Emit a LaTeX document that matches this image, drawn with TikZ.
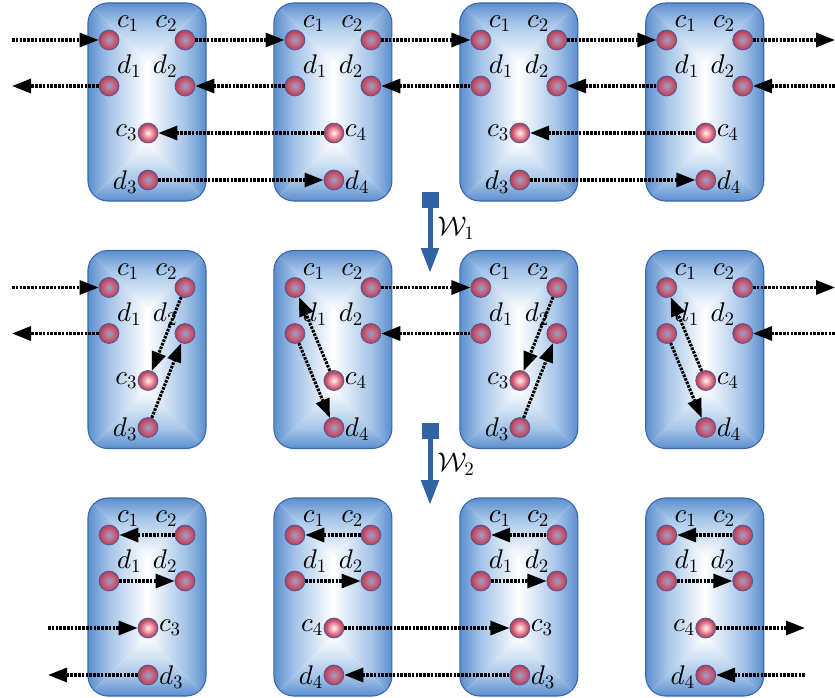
\documentclass[tikz,border=0pt]{standalone}
\DeclareFontShape{OML}{cmm}{m}{it}{<->cmmi10}{}
\DeclareFontShape{OMS}{cmsy}{m}{n}{<->cmsy10}{}
\DeclareFontShape{OT1}{cmr}{m}{n}{<->cmr10}{}
\usetikzlibrary{arrows.meta}
\definecolor{boxedge}{RGB}{92,142,206}
\definecolor{boxmid}{RGB}{165,197,232}
\definecolor{boxline}{RGB}{58,104,172}
\definecolor{ballline}{RGB}{70,90,165}
\definecolor{balledge}{RGB}{192,76,100}
\definecolor{darkmid}{RGB}{185,120,150}
\definecolor{darkcen}{RGB}{140,165,210}
\definecolor{lightmid}{RGB}{238,160,170}
\definecolor{lightcen}{RGB}{255,242,244}
\definecolor{wblue}{RGB}{50,100,165}
\pgfdeclarehorizontalshading{boxh}{100bp}{color(0bp)=(boxedge); color(25bp)=(boxedge); color(34bp)=(boxmid); color(50bp)=(white); color(66bp)=(boxmid); color(75bp)=(boxedge); color(100bp)=(boxedge)}
\pgfdeclareverticalshading{boxv}{100bp}{color(0bp)=(boxedge); color(25bp)=(boxedge); color(30bp)=(boxmid); color(40bp)=(white); color(60bp)=(white); color(70bp)=(boxmid); color(75bp)=(boxedge); color(100bp)=(boxedge)}
\pgfdeclareradialshading{balldark}{\pgfpointorigin}{color(0bp)=(darkcen); color(9bp)=(darkmid); color(20bp)=(balledge); color(25bp)=(balledge!85!black); color(50bp)=(balledge!85!black)}
\pgfdeclareradialshading{balllight}{\pgfpointorigin}{color(0bp)=(lightcen); color(10bp)=(lightmid); color(21bp)=(balledge); color(25bp)=(balledge!90!black); color(50bp)=(balledge!90!black)}
\tikzset{
  ball/.style={circle, minimum size=20pt, inner sep=0pt, draw=ballline, line width=0.7pt, shade, shading=balldark},
  lball/.style={ball, shading=balllight},
  lbl/.style={inner sep=0.5pt, font=\fontsize{27}{31}\selectfont, text opacity=1},
  arr/.style={line width=3.1pt, dash pattern=on 2.6pt off 1.2pt, -{Triangle[length=19pt,width=14pt]}},
  boxframe/.style={draw=boxline, line width=1.1pt, rounded corners=20pt, minimum width=118pt, minimum height=198pt, inner sep=0pt},
  warr/.style={wblue, line width=5pt, {Square[length=16pt,width=17pt]}-{Triangle[length=25pt,width=17pt]}},
}
\begin{document}
\begin{tikzpicture}[x=1pt,y=-1pt]
\useasboundingbox (0,0) rectangle (835,698);
% boxes
\foreach \r in {1,2,3}{
  \foreach \b in {1,2,3,4}{
    \pgfmathsetmacro\X{88+185.9*(\b-1)}
    \pgfmathsetmacro\Y{3+247.5*(\r-1)}
    \begin{scope}
      \clip[rounded corners=20pt] (\X,\Y) rectangle ++(118,198);
      \shade[shading=boxh] (\X,\Y) -- ++(59,59) -- ++(0,80) -- (\X,\Y+198) -- cycle
                           (\X+118,\Y) -- ++(-59,59) -- ++(0,80) -- (\X+118,\Y+198) -- cycle;
      \shade[shading=boxv] (\X,\Y) -- (\X+118,\Y) -- (\X+59,\Y+59) -- cycle
                           (\X,\Y+198) -- (\X+118,\Y+198) -- (\X+59,\Y+139) -- cycle;
    \end{scope}
    \node[boxframe] (box\r\b) at (\X+59,\Y+99) {};
  }
}
% balls
\foreach \r/\b/\k/\p in {1/1/3/left,1/2/4/right,1/3/3/left,1/4/4/right,
                         2/1/3/left,2/2/4/right,2/3/3/left,2/4/4/right,
                         3/1/3/right,3/2/4/left,3/3/3/right,3/4/4/left}{
  \pgfmathsetmacro\X{88+185.9*(\b-1)}
  \pgfmathsetmacro\Y{3+247.5*(\r-1)}
  \node[ball, label={[lbl]45:$c_1$}] (n\r\b-c1) at (\X+21,\Y+37) {};
  \node[ball, label={[lbl]135:$c_2$}] (n\r\b-c2) at (\X+97,\Y+37) {};
  \node[ball, label={[lbl]45:$d_1$}] (n\r\b-d1) at (\X+21,\Y+83) {};
  \node[ball, label={[lbl]135:$d_2$}] (n\r\b-d2) at (\X+97,\Y+83) {};
  \node[lball, label={[lbl]\p:$c_\k$}] (n\r\b-c) at (\X+60,\Y+130) {};
  \node[ball, label={[lbl,yshift=-2pt]\p:$d_\k$}] (n\r\b-d) at (\X+60,\Y+177) {};
}
% free ends
\coordinate (L1a) at (12,40);   \coordinate (L1b) at (12,86);
\coordinate (R1a) at (835,40);  \coordinate (R1b) at (835,86);
\coordinate (L2a) at (12,287.5); \coordinate (L2b) at (12,333.5);
\coordinate (R2a) at (835,287.5); \coordinate (R2b) at (835,333.5);
\coordinate (L3a) at (48,628);  \coordinate (L3b) at (48,675);
\coordinate (R3a) at (805,628); \coordinate (R3b) at (805,675);
% row 1
\draw[arr] (L1a) -- (n11-c1);
\draw[arr] (n11-c2) -- (n12-c1);
\draw[arr] (n12-c2) -- (n13-c1);
\draw[arr] (n13-c2) -- (n14-c1);
\draw[arr] (n14-c2) -- (R1a);
\draw[arr] (n11-d1) -- (L1b);
\draw[arr] (n12-d1) -- (n11-d2);
\draw[arr] (n13-d1) -- (n12-d2);
\draw[arr] (n14-d1) -- (n13-d2);
\draw[arr] (R1b) -- (n14-d2);
\draw[arr] (n12-c) -- (n11-c);
\draw[arr] (n14-c) -- (n13-c);
\draw[arr] (n11-d) -- (n12-d);
\draw[arr] (n13-d) -- (n14-d);
% row 2
\draw[arr] (L2a) -- (n21-c1);
\draw[arr] (n21-d1) -- (L2b);
\draw[arr] (n21-c2) -- (n21-c);
\draw[arr] (n21-d) -- (n21-d2);
\draw[arr] (n22-c2) -- (n23-c1);
\draw[arr] (n23-d1) -- (n22-d2);
\draw[arr] (n22-c) -- (n22-c1);
\draw[arr] (n22-d1) -- (n22-d);
\draw[arr] (n23-c2) -- (n23-c);
\draw[arr] (n23-d) -- (n23-d2);
\draw[arr] (n24-c) -- (n24-c1);
\draw[arr] (n24-d1) -- (n24-d);
\draw[arr] (n24-c2) -- (R2a);
\draw[arr] (R2b) -- (n24-d2);
% row 3
\foreach \b in {1,2,3,4}{
  \draw[arr] (n3\b-c2) -- (n3\b-c1);
  \draw[arr] (n3\b-d1) -- (n3\b-d2);
}
\draw[arr] (L3a) -- (n31-c);
\draw[arr] (n31-d) -- (L3b);
\draw[arr] (n32-c) -- (n33-c);
\draw[arr] (n33-d) -- (n32-d);
\draw[arr] (n34-c) -- (R3a);
\draw[arr] (R3b) -- (n34-d);
% transition arrows
\coordinate (w1s) at (430,192); \coordinate (w1e) at (430,273);
\coordinate (w2s) at (430,423); \coordinate (w2e) at (430,505);
\draw[warr] (w1s) -- (w1e);
\draw[warr] (w2s) -- (w2e);
\node[lbl, anchor=west] (w1lab) at (437,228) {$\mathcal{W}_1$};
\node[lbl, anchor=west] (w2lab) at (437,464) {$\mathcal{W}_2$};
\end{tikzpicture}
\end{document}
